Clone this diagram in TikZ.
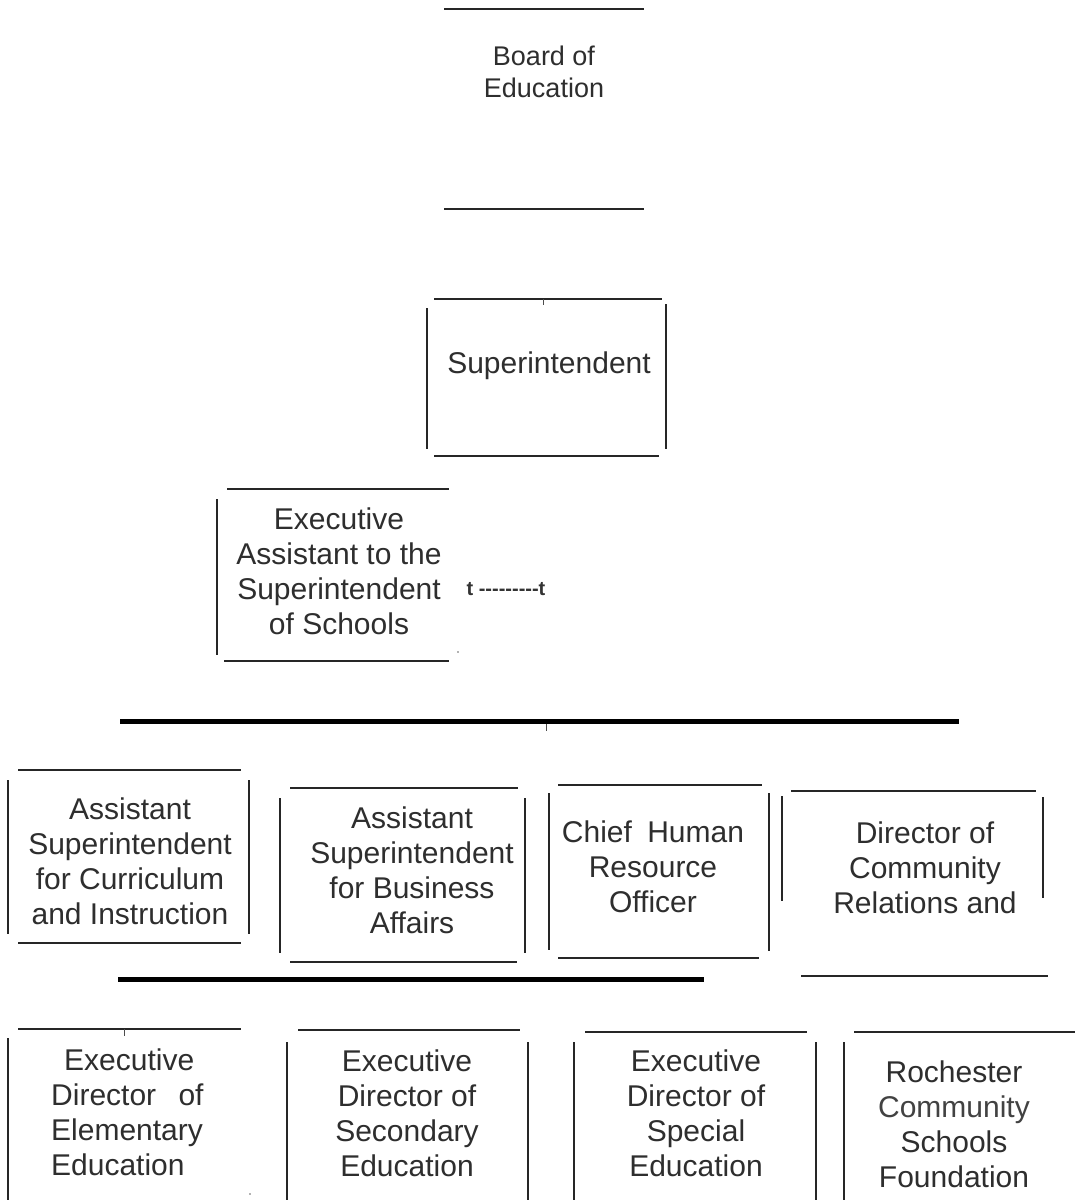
\documentclass[tikz,border=0pt]{standalone}
\usepackage{fontspec}
\setmainfont{Liberation Sans}
\begin{document}
\begin{tikzpicture}[x=1pt,y=-1pt,
  thin line/.style={line width=1.5pt, draw=black!85},
  thick bar/.style={line width=5pt, draw=black},
  tick/.style={line width=1pt, draw=black!70},
  label/.style={inner sep=0pt, text=black!82, align=center, font=\fontsize{30}{35}\selectfont},
  boardlabel/.style={inner sep=0pt, text=black!82, align=center, font=\fontsize{27}{32}\selectfont},
  speck/.style={fill=black!60, draw=none}]
\useasboundingbox[fill=white] (0,0) rectangle (1075,1200);

% Board of Education
\draw[thin line] (444,9) -- (644,9);
\draw[thin line] (444,209) -- (644,209);
\node[boardlabel] (board) at (544,75.3) {\strut Board of\\Education\strut};

% Superintendent
\draw[thin line] (434,299) -- (662,299);
\draw[tick] (543,299) -- (543,305);
\draw[thin line] (427,308) -- (427,449);
\draw[thin line] (666,304) -- (666,449);
\draw[thin line] (434,456) -- (659,456);
\node[label] (supt) at (549,366.7) {\strut Superintendent};

% Executive Assistant
\draw[thin line] (227,489) -- (449,489);
\draw[thin line] (217,499) -- (217,655);
\draw[thin line] (224,661) -- (449,661);
\fill[speck] (458,652) circle (0.9);
\node[label] (execasst) at (339,575) {\strut Executive\\Assistant to the\\Superintendent\\of Schools\strut};
\node[inner sep=0pt, text=black!80, font=\fontsize{20}{24}\selectfont\bfseries] (dashlink) at (506,589) {t -{}-{}-{}-{}-{}-{}-{}-{}-t};

% first thick bar
\draw[thick bar] (120,721.5) -- (959,721.5);
\draw[tick] (546,724) -- (546,731);

% Assistant Superintendent for Curriculum and Instruction
\draw[thin line] (18,770) -- (241,770);
\draw[thin line] (8,780) -- (8,934);
\draw[thin line] (249,780) -- (249,934);
\draw[thin line] (18,943) -- (241,943);
\node[label] (curric) at (130,865) {\strut Assistant\\Superintendent\\for Curriculum\\and Instruction\strut};

% Assistant Superintendent for Business Affairs
\draw[thin line] (290,788) -- (518,788);
\draw[thin line] (280,798) -- (280,953);
\draw[thin line] (525,798) -- (525,953);
\draw[thin line] (290,962) -- (517,962);
\node[label] (business) at (412,874) {\strut Assistant\\Superintendent\\for Business\\Affairs\strut};

% Chief Human Resource Officer
\draw[thin line] (558,785) -- (762,785);
\draw[thin line] (549,793) -- (549,950);
\draw[thin line] (769,793) -- (769,951);
\draw[thin line] (558,958) -- (759,958);
\node[label] (hr) at (653,870) {\strut Chief\hspace{7pt} Human\\Resource\\Officer\strut};

% Director of Community Relations
\draw[thin line] (791,791) -- (1036,791);
\draw[thin line] (782,796) -- (782,901);
\draw[thin line] (1043,797) -- (1043,898);
\draw[thin line] (801,976) -- (1048,976);
\node[label] (community) at (925,871.4) {\strut Director of\\Community\\Relations and\strut};

% second thick bar
\draw[thick bar] (118,979.5) -- (704,979.5);

% Executive Director of Elementary Education
\draw[thin line] (18,1029) -- (241,1029);
\draw[tick] (124,1029) -- (124,1036);
\draw[thin line] (8,1038) -- (8,1200);
\fill[speck] (250,1194) circle (0.9);
\node[label, align=left, anchor=west] (elem) at (51,1115.5) {\strut\hspace{13pt}Executive\\Director\hspace{14pt} of\\Elementary\\Education\strut};

% Executive Director of Secondary Education
\draw[thin line] (298,1030) -- (520,1030);
\draw[thin line] (287,1042) -- (287,1200);
\draw[thin line] (528,1042) -- (528,1200);
\node[label] (secondary) at (407,1117) {\strut Executive\\Director of\\Secondary\\Education\strut};

% Executive Director of Special Education
\draw[thin line] (585,1032) -- (807,1032);
\draw[thin line] (574,1042) -- (574,1200);
\draw[thin line] (816,1042) -- (816,1200);
\node[label] (special) at (696,1117) {\strut Executive\\Director of\\Special\\Education\strut};

% Rochester Community Schools Foundation
\draw[thin line] (854,1032) -- (1075,1032);
\draw[thin line] (844,1042) -- (844,1200);
\node[label] (foundation) at (954,1128) {\strut Rochester\\\textcolor{black!74}{Community}\\Schools\\Foundation\strut};
\end{tikzpicture}
\end{document}
